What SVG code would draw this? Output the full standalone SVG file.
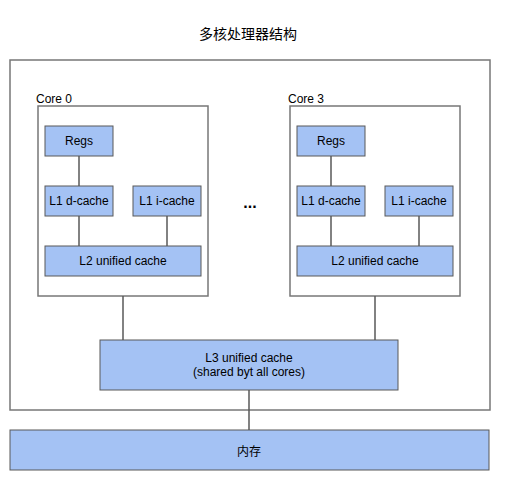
<svg xmlns="http://www.w3.org/2000/svg" width="510" height="490" viewBox="0 0 510 490">
<style>
.frame{fill:#ffffff;stroke:#777777;stroke-width:1.5}
.box{fill:#a4c2f4;stroke:#595959;stroke-width:1}
.lbl{font-family:"Liberation Sans",Arial,sans-serif;font-size:12px;fill:#000;text-anchor:middle;dominant-baseline:central}
.cap{font-family:"Liberation Sans",Arial,sans-serif;font-size:12px;fill:#000}
.con{stroke:#595959;stroke-width:1.5;fill:none}
</style>
<rect width="510" height="490" fill="#ffffff"/>
<text x="248" y="33" font-family="'Noto Sans CJK SC',sans-serif" font-size="14" text-anchor="middle" dominant-baseline="central">多核处理器结构</text>
<g id="chip"><rect class="frame" x="10" y="60" width="480" height="350"/></g>
<g id="core0">
<rect class="frame" x="38" y="106" width="170" height="190"/>
<text class="cap" x="36" y="103">Core 0</text>
</g>
<g id="core3">
<rect class="frame" x="290" y="106" width="170" height="190"/>
<text class="cap" x="288" y="103">Core 3</text>
</g>
<g id="connectors">
<line class="con" x1="79" y1="156" x2="79" y2="186"/>
<line class="con" x1="79" y1="216" x2="79" y2="246"/>
<line class="con" x1="167" y1="216" x2="167" y2="246"/>
<line class="con" x1="331" y1="156" x2="331" y2="186"/>
<line class="con" x1="331" y1="216" x2="331" y2="246"/>
<line class="con" x1="419" y1="216" x2="419" y2="246"/>
<line class="con" x1="123" y1="296" x2="123" y2="340"/>
<line class="con" x1="375" y1="296" x2="375" y2="340"/>
<line class="con" x1="249" y1="390" x2="249" y2="430"/>
</g>
<g id="regs0"><rect class="box" x="45" y="126" width="68" height="30"/><text class="lbl" x="79" y="141">Regs</text></g>
<g id="l1d0"><rect class="box" x="45" y="186" width="68" height="30"/><text class="lbl" x="79" y="201">L1 d-cache</text></g>
<g id="l1i0"><rect class="box" x="133" y="186" width="68" height="30"/><text class="lbl" x="167" y="201">L1 i-cache</text></g>
<g id="l20"><rect class="box" x="45" y="246" width="156" height="30"/><text class="lbl" x="123" y="261">L2 unified cache</text></g>
<g id="regs3"><rect class="box" x="297" y="126" width="68" height="30"/><text class="lbl" x="331" y="141">Regs</text></g>
<g id="l1d3"><rect class="box" x="297" y="186" width="68" height="30"/><text class="lbl" x="331" y="201">L1 d-cache</text></g>
<g id="l1i3"><rect class="box" x="385" y="186" width="68" height="30"/><text class="lbl" x="419" y="201">L1 i-cache</text></g>
<g id="l23"><rect class="box" x="297" y="246" width="156" height="30"/><text class="lbl" x="375" y="261">L2 unified cache</text></g>
<g id="ellipsis"><text x="250" y="208" font-family="'Liberation Sans',Arial,sans-serif" font-size="16" font-weight="bold" text-anchor="middle">...</text></g>
<g id="l3"><rect class="box" x="100" y="340" width="298" height="50"/>
<text class="lbl" x="249" y="358">L3 unified cache</text>
<text class="lbl" x="249" y="372">(shared byt all cores)</text></g>
<g id="memory"><rect class="box" x="10" y="430" width="479" height="40"/>
<text x="249" y="450" font-family="'Noto Sans CJK SC',sans-serif" font-size="12" text-anchor="middle" dominant-baseline="central">内存</text></g>
</svg>
